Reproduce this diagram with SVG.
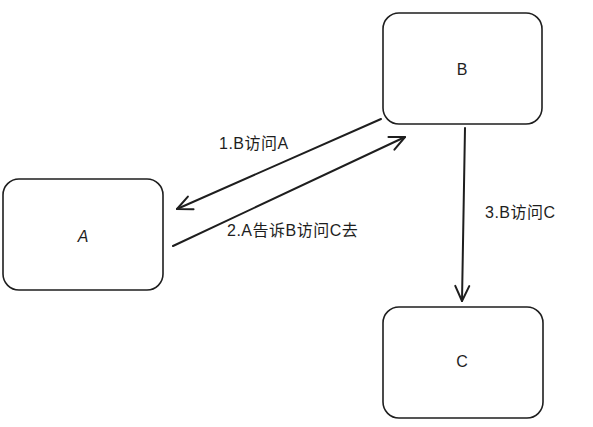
<svg xmlns="http://www.w3.org/2000/svg" width="593" height="427" viewBox="0 0 593 427">
<defs>
<style>
.box{fill:#fff;stroke:#1e1e1e;stroke-width:1.6}
.lbl{font-family:"Liberation Sans","Noto Sans CJK SC",sans-serif;font-size:16px;fill:#1e1e1e;text-anchor:middle;dominant-baseline:central}
.elbl{font-family:"Liberation Sans","Noto Sans CJK SC",sans-serif;font-size:16px;letter-spacing:0.5px;fill:#1e1e1e;dominant-baseline:central}
.edge{fill:none;stroke:#1e1e1e;stroke-width:2;stroke-linecap:round}
.head{fill:none;stroke:#1e1e1e;stroke-width:2;stroke-linecap:round;stroke-linejoin:round}
</style>
<marker id="ah" viewBox="0 0 20 20" refX="18" refY="10" markerWidth="20" markerHeight="20" markerUnits="userSpaceOnUse" orient="auto">
<path class="head" d="M3,3 L18,10 L3,17"/>
</marker>
</defs>
<rect width="593" height="427" fill="#fff"/>
<g id="node-B">
<rect class="box" x="383" y="13" width="159" height="111" rx="16"/>
<text class="lbl" x="462" y="69">B</text>
</g>
<g id="node-A">
<rect class="box" x="3" y="179" width="160" height="111" rx="16"/>
<text class="lbl" x="83" y="236" font-style="italic">A</text>
</g>
<g id="node-C">
<rect class="box" x="383" y="307" width="160" height="111" rx="16"/>
<text class="lbl" x="462" y="361">C</text>
</g>
<g id="connectors">
<line class="edge" x1="381" y1="119" x2="177" y2="209" marker-end="url(#ah)"/>
<line class="edge" x1="173" y1="246" x2="405" y2="137" marker-end="url(#ah)"/>
<line class="edge" x1="465" y1="128" x2="462" y2="301" marker-end="url(#ah)"/>
<text class="elbl" x="219" y="143">1.B访问A</text>
<text class="elbl" x="227" y="230">2.A告诉B访问C去</text>
<text class="elbl" x="485" y="212">3.B访问C</text>
</g>
</svg>
